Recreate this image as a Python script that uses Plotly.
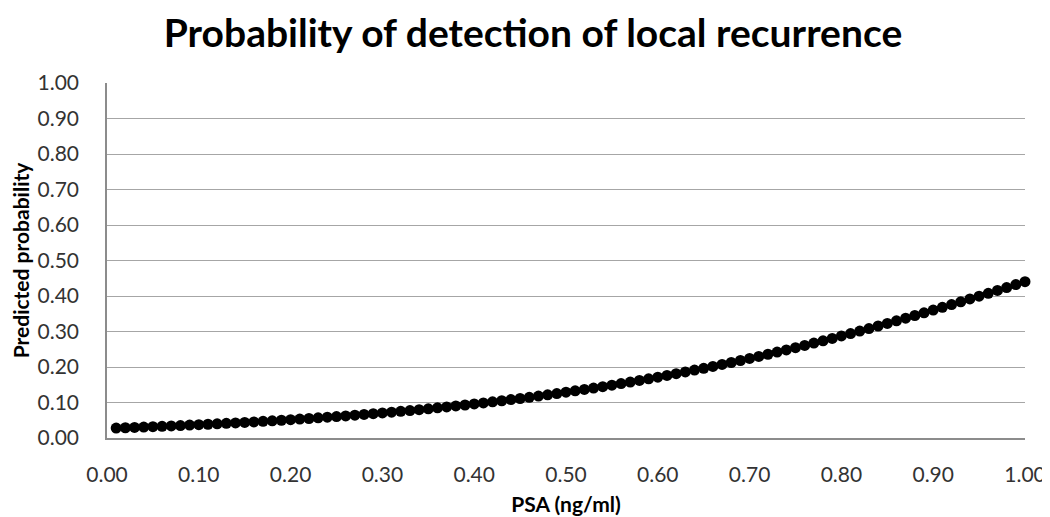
import plotly.graph_objects as go

psa = [round(0.01 * i, 2) for i in range(1, 101)]
prob = [
    0.0280, 0.0289, 0.0299, 0.0309, 0.0319, 0.0329, 0.0340, 0.0351, 0.0363, 0.0375,
    0.0387, 0.0400, 0.0413, 0.0426, 0.0440, 0.0454, 0.0469, 0.0484, 0.0500, 0.0516,
    0.0532, 0.0549, 0.0567, 0.0585, 0.0604, 0.0623, 0.0643, 0.0663, 0.0684, 0.0706,
    0.0728, 0.0751, 0.0774, 0.0798, 0.0823, 0.0849, 0.0875, 0.0902, 0.0930, 0.0959,
    0.0988, 0.1018, 0.1049, 0.1081, 0.1113, 0.1147, 0.1181, 0.1217, 0.1253, 0.1290,
    0.1328, 0.1367, 0.1407, 0.1447, 0.1489, 0.1532, 0.1576, 0.1621, 0.1667, 0.1714,
    0.1762, 0.1811, 0.1861, 0.1912, 0.1964, 0.2017, 0.2071, 0.2127, 0.2183, 0.2241,
    0.2299, 0.2359, 0.2420, 0.2482, 0.2544, 0.2608, 0.2673, 0.2739, 0.2806, 0.2874,
    0.2943, 0.3013, 0.3084, 0.3155, 0.3228, 0.3301, 0.3376, 0.3451, 0.3526, 0.3603,
    0.3680, 0.3758, 0.3837, 0.3916, 0.3996, 0.4077, 0.4158, 0.4239, 0.4321, 0.4403,
]
tick_vals = [i / 10 for i in range(11)]
tick_text = [f"{v:.2f}" for v in tick_vals]

font_family = "Lato, 'Open Sans', sans-serif"

fig = go.Figure()
fig.add_trace(go.Scatter(
    x=psa, y=prob, mode="markers",
    marker=dict(color="black", size=11, line=dict(width=0)),
    cliponaxis=False, showlegend=False,
))

fig.update_layout(
    width=1050, height=517,
    paper_bgcolor="white", plot_bgcolor="white",
    margin=dict(l=97, r=22, t=75, b=82),
    title=dict(text="<b>Probability of detection of local recurrence</b>",
               x=0.5, xanchor="center", y=0.951, yanchor="middle",
               font=dict(family=font_family, size=39, color="black")),
    font=dict(family=font_family),
)
fig.update_xaxes(
    range=[0, 1], tickvals=tick_vals, ticktext=tick_text,
    showgrid=False, zeroline=False,
    showline=True, linecolor="#8c8c8c", linewidth=1.5,
    ticks="", ticklabelstandoff=17,
    tickfont=dict(size=21, color="#333333"),
    title=dict(text="<b>PSA (ng/ml)</b>", font=dict(size=21, color="black"), standoff=12),
)
fig.update_yaxes(
    range=[0, 1], tickvals=tick_vals, ticktext=tick_text,
    showgrid=True, gridcolor="#a6a6a6", gridwidth=1.2, zeroline=False,
    showline=True, linecolor="#8c8c8c", linewidth=1.5,
    ticks="", ticklabelstandoff=22,
    tickfont=dict(size=21, color="#333333"),
    title=dict(text="<b>Predicted probability</b>", font=dict(size=21, color="black"), standoff=3),
)

fig.write_html("out.html")
